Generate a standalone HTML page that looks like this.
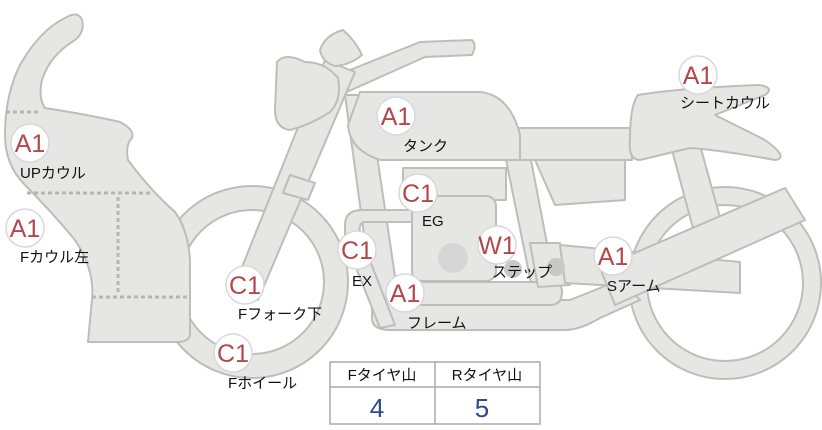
<!DOCTYPE html>
<html><head><meta charset="utf-8"><style>
body{margin:0;background:#fff;width:822px;height:425px;overflow:hidden}
svg text{font-family:"Liberation Sans","Noto Sans CJK JP",sans-serif}
.b{fill:#e6e6e4;stroke:#bdbdbb;stroke-width:2;stroke-linejoin:round}
.bd{font-size:25px;fill:#b5474b;text-anchor:middle}
.lb{font-size:15px;fill:#111}
</style></head><body>
<svg width="822" height="425" viewBox="0 0 822 425">
<!-- rear wheel -->
<circle cx="725" cy="283" r="96" class="b"/>
<circle cx="725" cy="283" r="78" fill="#fff" stroke="#bdbdbb" stroke-width="2"/>
<!-- front wheel -->
<circle cx="252" cy="282" r="96" class="b"/>
<circle cx="252" cy="282" r="72" fill="#fff" stroke="#bdbdbb" stroke-width="2"/>
<!-- rear shock -->
<polygon points="672,150 700,145 722,225 694,232" class="b"/>
<!-- rear fender -->
<path d="M535,160 L625,160 L625,200 L555,205 Z" class="b"/>
<!-- frame rear down -->
<polygon points="505,155 530,155 555,285 532,288" class="b"/>
<!-- frame front down -->
<polygon points="345,95 368,95 400,310 375,315" class="b"/>
<!-- lower frame loop -->
<path d="M372,295 L372,318 Q372,330 390,330 L565,330 Q580,330 600,318 L640,300 L620,280 L570,300 L392,300 Q380,300 380,290 Z" class="b"/>
<path d="M390,282 L550,282 Q562,282 562,292 Q562,305 550,305 L392,305 Z" class="b"/>
<!-- exhaust -->
<path d="M345,225 Q345,210 362,210 L414,210 L414,222 L365,222 Q358,222 360,235 L395,325 L380,328 L345,240 Z" class="b"/>
<!-- engine -->
<rect x="403" y="168" width="103" height="32" class="b"/>
<rect x="412" y="196" width="84" height="85" rx="10" class="b"/>
<circle cx="453" cy="258" r="15" fill="#d6d6d6"/>
<!-- step bar -->
<polygon points="530,243 560,243 570,285 538,287" class="b"/>
<polygon points="560,245 740,262 740,293 565,283" class="b"/>
<circle cx="513" cy="269" r="9" fill="#c8c8c8"/>
<circle cx="556" cy="267" r="9" fill="#c8c8c8"/>
<!-- swing arm -->
<polygon points="600,268 785,188 805,220 615,305" class="b"/>
<!-- seat -->
<path d="M513,128 L632,128 L632,160 L513,160 Z" class="b"/>
<path d="M638,95 Q680,88 760,85 Q775,88 765,95 L715,115 L765,140 Q790,158 775,160 Q720,150 690,148 L640,160 Q628,160 630,140 Q630,105 638,95 Z" class="b"/>
<!-- tank -->
<path d="M360,92 L480,92 Q510,95 520,135 L520,160 L380,160 Q350,150 348,125 Z" class="b"/>
<!-- handlebar -->
<path d="M330,78 L420,42 L472,40 Q477,45 472,55 L425,57 L340,95 Z" class="b"/>
<!-- fork -->
<polygon points="325,60 355,72 258,300 232,292" class="b"/>
<polygon points="290,175 315,183 308,200 283,193" class="b"/>
<!-- headlight -->
<path d="M277,62 Q285,52 305,62 Q325,62 338,78 Q342,100 330,112 Q310,125 290,130 Q275,128 275,110 Z" class="b"/>
<path d="M320,50 Q325,35 343,30 Q355,40 362,55 Q350,65 335,66 Q322,62 320,50 Z" class="b"/>
<!-- front cowl -->
<path d="M65,18 Q78,10 82,20 Q85,32 75,40 Q50,55 42,80 Q38,98 45,108 Q90,115 120,122 Q135,130 132,138 Q125,145 128,160 Q150,190 175,212 Q188,230 190,260 L190,335 Q188,342 178,342 L88,342 Q90,320 92,300 Q95,270 75,240 Q50,210 25,185 Q5,165 5,135 Q5,95 20,65 Q40,30 65,18 Z" class="b"/>
<g stroke="#b5b5b3" stroke-width="3" stroke-dasharray="4,3" fill="none">
<line x1="6" y1="112" x2="40" y2="112"/>
<line x1="27" y1="193" x2="152" y2="193"/>
<line x1="118" y1="197" x2="118" y2="295"/>
<line x1="92" y1="297" x2="188" y2="297"/>
</g>
<!-- badges -->
<g fill="#fff" stroke="#d8d8d8" stroke-width="1.5">
<circle cx="30" cy="143" r="19"/><circle cx="25" cy="228" r="19"/>
<circle cx="245" cy="285" r="19"/><circle cx="233" cy="353" r="19"/>
<circle cx="357" cy="250" r="19"/><circle cx="405" cy="293" r="19"/>
<circle cx="418" cy="193" r="19"/><circle cx="396" cy="116" r="19"/>
<circle cx="497" cy="245" r="19"/><circle cx="613" cy="256" r="19"/>
<circle cx="698" cy="75" r="19"/>
</g>
<g class="bd">
<text x="30" y="152" class="bd">A1</text><text x="25" y="237" class="bd">A1</text>
<text x="245" y="294" class="bd">C1</text><text x="233" y="362" class="bd">C1</text>
<text x="357" y="259" class="bd">C1</text><text x="405" y="302" class="bd">A1</text>
<text x="418" y="202" class="bd">C1</text><text x="396" y="125" class="bd">A1</text>
<text x="497" y="254" class="bd">W1</text><text x="613" y="265" class="bd">A1</text>
<text x="698" y="84" class="bd">A1</text>
</g>
<text x="20" y="178" class="lb">UPカウル</text>
<text x="20" y="262" class="lb">Fカウル左</text>
<text x="238" y="319" class="lb">Fフォーク下</text>
<text x="228" y="388" class="lb">Fホイール</text>
<text x="352" y="286" class="lb">EX</text>
<text x="407" y="328" class="lb">フレーム</text>
<text x="422" y="226" class="lb">EG</text>
<text x="403" y="151" class="lb">タンク</text>
<text x="492" y="277" class="lb">ステップ</text>
<text x="607" y="291" class="lb">Sアーム</text>
<text x="680" y="108" class="lb">シートカウル</text>
<!-- table -->
<rect x="330" y="362" width="210" height="62" fill="#fff" stroke="#aaa" stroke-width="1.5"/>
<line x1="330" y1="387" x2="540" y2="387" stroke="#aaa" stroke-width="1.5"/>
<line x1="435" y1="362" x2="435" y2="424" stroke="#aaa" stroke-width="1.5"/>
<text x="382" y="380" class="lb" text-anchor="middle">Fタイヤ山</text>
<text x="487" y="380" class="lb" text-anchor="middle">Rタイヤ山</text>
<text x="377" y="417" font-size="26" fill="#2e4a8a" text-anchor="middle">4</text>
<text x="482" y="417" font-size="26" fill="#2e4a8a" text-anchor="middle">5</text>
</svg>
</body></html>
